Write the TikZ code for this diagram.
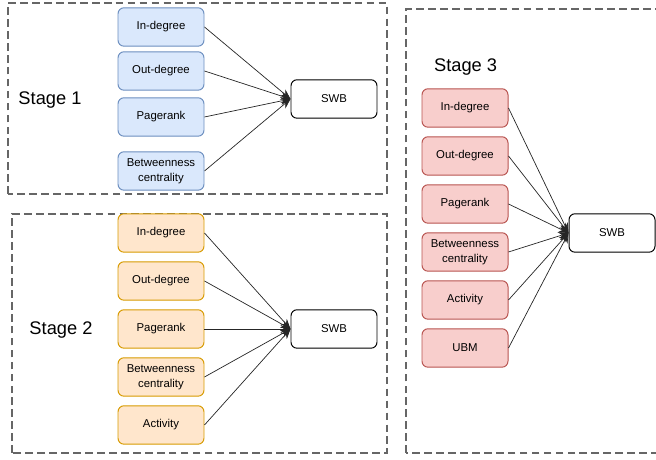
\documentclass[tikz,border=0pt]{standalone}
\usepackage{fontspec}
\setmainfont{Liberation Sans}
\usepackage{xcolor}
\usetikzlibrary{arrows.meta}

\definecolor{blueFill}{HTML}{DAE8FC}
\definecolor{blueLine}{HTML}{6C8EBF}
\definecolor{orangeFill}{HTML}{FFE6CC}
\definecolor{orangeLine}{HTML}{D79B00}
\definecolor{redFill}{HTML}{F8CECC}
\definecolor{redLine}{HTML}{B85450}
\definecolor{frameGray}{HTML}{666666}

\begin{document}
\begin{tikzpicture}[
	feature/.style={rectangle, rounded corners=0.15cm, draw, line width=0.7pt, minimum width=2.15cm, minimum height=0.96cm, inner sep=0pt, align=center, font=\fontsize{8.1}{10.7}\selectfont},
	outcome/.style={feature, draw=black, fill=white},
	stagebox/.style={draw=frameGray, line width=0.8pt, dash pattern=on 5.5pt off 3pt},
	stagelabel/.style={font=\fontsize{13}{15}\selectfont},
	link/.style={draw=black!85, line width=0.5pt, -{Stealth[length=2.5mm, width=2mm]}}
]
	\clip (0, 0) rectangle (16.4, 11.5);

	\begin{scope}[xshift=0cm, yshift=0cm]
		\draw[stagebox] (0.2, 6.65) rectangle (9.675, 11.425);
		\node[stagelabel] (L1) at (1.25, 9.0) {Stage 1};

		\node[feature, draw=blueLine, fill=blueFill] (b1) at (4.025, 10.825) {In-degree};
		\node[feature, draw=blueLine, fill=blueFill] (b2) at (4.025, 9.725) {Out-degree};
		\node[feature, draw=blueLine, fill=blueFill] (b3) at (4.025, 8.575) {Pagerank};
		\node[feature, draw=blueLine, fill=blueFill] (b4) at (4.025, 7.225) {Betweenness\\centrality};
		\node[outcome] (s1) at (8.35, 9.025) {SWB};

		% Draw the arrows into SWB
		\draw[link] (b1.east) -- (s1.west);
		\draw[link] (b2.east) -- (s1.west);
		\draw[link] (b3.east) -- (s1.west);
		\draw[link] (b4.east) -- (s1.west);
	\end{scope}

	\begin{scope}[xshift=0cm, yshift=0cm]
		\draw[stagebox] (0.3, 0.175) rectangle (9.675, 6.15);
		\node[stagelabel] (L2) at (1.525, 3.25) {Stage 2};

		\node[feature, draw=orangeLine, fill=orangeFill] (o1) at (4.025, 5.675) {In-degree};
		\node[feature, draw=orangeLine, fill=orangeFill] (o2) at (4.025, 4.475) {Out-degree};
		\node[feature, draw=orangeLine, fill=orangeFill] (o3) at (4.025, 3.275) {Pagerank};
		\node[feature, draw=orangeLine, fill=orangeFill] (o4) at (4.025, 2.075) {Betweenness\\centrality};
		\node[feature, draw=orangeLine, fill=orangeFill] (o5) at (4.025, 0.875) {Activity};
		\node[outcome] (s2) at (8.35, 3.275) {SWB};

		% Draw the arrows into SWB
		\draw[link] (o1.east) -- (s2.west);
		\draw[link] (o2.east) -- (s2.west);
		\draw[link] (o3.east) -- (s2.west);
		\draw[link] (o4.east) -- (s2.west);
		\draw[link] (o5.east) -- (s2.west);
	\end{scope}

	\begin{scope}[xshift=0cm, yshift=0cm]
		\draw[stagebox] (10.15, 0.175) rectangle (16.7, 11.275);
		\node[stagelabel] (L3) at (11.64, 9.825) {Stage 3};

		\node[feature, draw=redLine, fill=redFill] (r1) at (11.625, 8.8) {In-degree};
		\node[feature, draw=redLine, fill=redFill] (r2) at (11.625, 7.6) {Out-degree};
		\node[feature, draw=redLine, fill=redFill] (r3) at (11.625, 6.4) {Pagerank};
		\node[feature, draw=redLine, fill=redFill] (r4) at (11.625, 5.2) {Betweenness\\centrality};
		\node[feature, draw=redLine, fill=redFill] (r5) at (11.625, 4.0) {Activity};
		\node[feature, draw=redLine, fill=redFill] (r6) at (11.625, 2.8) {UBM};
		\node[outcome] (s3) at (15.3, 5.675) {SWB};

		% Draw the arrows into SWB
		\draw[link] (r1.east) -- (s3.west);
		\draw[link] (r2.east) -- (s3.west);
		\draw[link] (r3.east) -- (s3.west);
		\draw[link] (r4.east) -- (s3.west);
		\draw[link] (r5.east) -- (s3.west);
		\draw[link] (r6.east) -- (s3.west);
	\end{scope}
\end{tikzpicture}
\end{document}
